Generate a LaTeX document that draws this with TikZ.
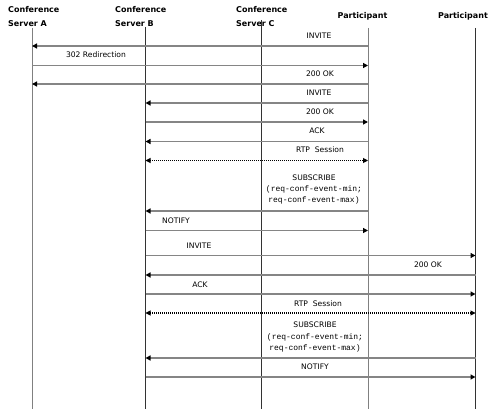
\documentclass[tikz,border=0pt]{standalone}
\usepackage{fontspec}
\setmainfont{DejaVu Sans}
\newfontfamily\monof{Liberation Mono}
\usetikzlibrary{arrows.meta}
\begin{document}
\begin{tikzpicture}[x=1pt,y=-1pt,
  hdr/.style={font=\fontsize{8}{10}\selectfont\bfseries, inner sep=0pt, anchor=base west},
  hdrc/.style={font=\fontsize{8}{10}\selectfont\bfseries, inner sep=0pt, anchor=base},
  lbl/.style={font=\fontsize{7.6}{9}\selectfont, inner sep=0pt, anchor=base},
  prm/.style={font=\monof\fontsize{8}{9}\selectfont, inner sep=0pt, anchor=base},
  life/.style={draw=black!80, line width=0.8pt},
  lifeg/.style={draw=black!50, line width=1pt},
  msg/.style={draw=black!48, line width=1.4pt, -{Triangle[color=black,length=5pt,width=5pt]}},
  rtp/.style={draw=black, line width=1pt, dash pattern=on 1pt off 1pt,
    {Triangle[color=black,length=5pt,width=5pt]}-{Triangle[color=black,length=5pt,width=5pt]}}]
\useasboundingbox (0,0) rectangle (488,409);
% headers
\node[hdr] (hA1) at (8,13) {Conference};
\node[hdr] (hA2) at (8,26.7) {Server A};
\node[hdr] (hB1) at (115,13) {Conference};
\node[hdr] (hB2) at (115,26.7) {Server B};
\node[hdr] (hC1) at (236,13) {Conference};
\node[hdr] (hC2) at (236,26.7) {Server C};
\node[hdrc] (hP) at (362.5,19) {Participant};
\node[hdrc] (hQ) at (463,19) {Participant};
% lifelines
\coordinate (A) at (32,28);  \coordinate (Ab) at (32,409);
\coordinate (B) at (145.5,27); \coordinate (Bb) at (145.5,409);
\coordinate (C) at (261,20); \coordinate (Cb) at (261,409);
\coordinate (P) at (368,28); \coordinate (Pb) at (368,409);
\coordinate (Q) at (475.5,28); \coordinate (Qb) at (475.5,409);
\draw[lifeg] (A) -- (Ab);
\draw[life] (B) -- (Bb);
\draw[life] (C) -- (Cb);
\draw[lifeg] (P) -- (Pb);
\draw[life] (Q) -- (Qb);
% messages
\draw[msg] (P |- 0,46) -- (A |- 0,46);
\node[lbl] (l1) at (319,39) {INVITE};
\draw[msg] (A |- 0,65.5) -- (P |- 0,65.5);
\node[lbl] (l2) at (96,58) {302 Redirection};
\draw[msg] (P |- 0,84) -- (A |- 0,84);
\node[lbl] (l3) at (320,77) {200 OK};
\draw[msg] (P |- 0,103) -- (B |- 0,103);
\node[lbl] (l4) at (319,96) {INVITE};
\draw[msg] (B |- 0,122) -- (P |- 0,122);
\node[lbl] (l5) at (320,115) {200 OK};
\draw[msg] (P |- 0,141.5) -- (B |- 0,141.5);
\node[lbl] (l6) at (317,134) {ACK};
\draw[rtp] (B |- 0,160.5) -- (P |- 0,160.5);
\node[lbl] (l7) at (320,153) {RTP\ \ Session};
\draw[msg] (P |- 0,211) -- (B |- 0,211);
\node[lbl] (l8) at (314,181) {SUBSCRIBE};
\node[prm] (l8a) at (314,192) {(req-conf-event-min;};
\node[prm] (l8b) at (314,203) {req-conf-event-max)};
\draw[msg] (B |- 0,230.5) -- (P |- 0,230.5);
\node[lbl] (l9) at (176,224) {NOTIFY};
\draw[msg] (B |- 0,255.5) -- (Q |- 0,255.5);
\node[lbl] (l10) at (199,248.5) {INVITE};
\draw[msg] (Q |- 0,275) -- (B |- 0,275);
\node[lbl] (l11) at (428,268) {200 OK};
\draw[msg] (B |- 0,294) -- (Q |- 0,294);
\node[lbl] (l12) at (200,287.5) {ACK};
\draw[rtp] (B |- 0,313) -- (Q |- 0,313);
\node[lbl] (l13) at (318,306) {RTP\ \ Session};
\draw[msg] (Q |- 0,358) -- (B |- 0,358);
\node[lbl] (l14) at (315,327) {SUBSCRIBE};
\node[prm] (l14a) at (315,339) {(req-conf-event-min;};
\node[prm] (l14b) at (315,350) {req-conf-event-max)};
\draw[msg] (B |- 0,377) -- (Q |- 0,377);
\node[lbl] (l15) at (315,370) {NOTIFY};
\end{tikzpicture}
\end{document}
